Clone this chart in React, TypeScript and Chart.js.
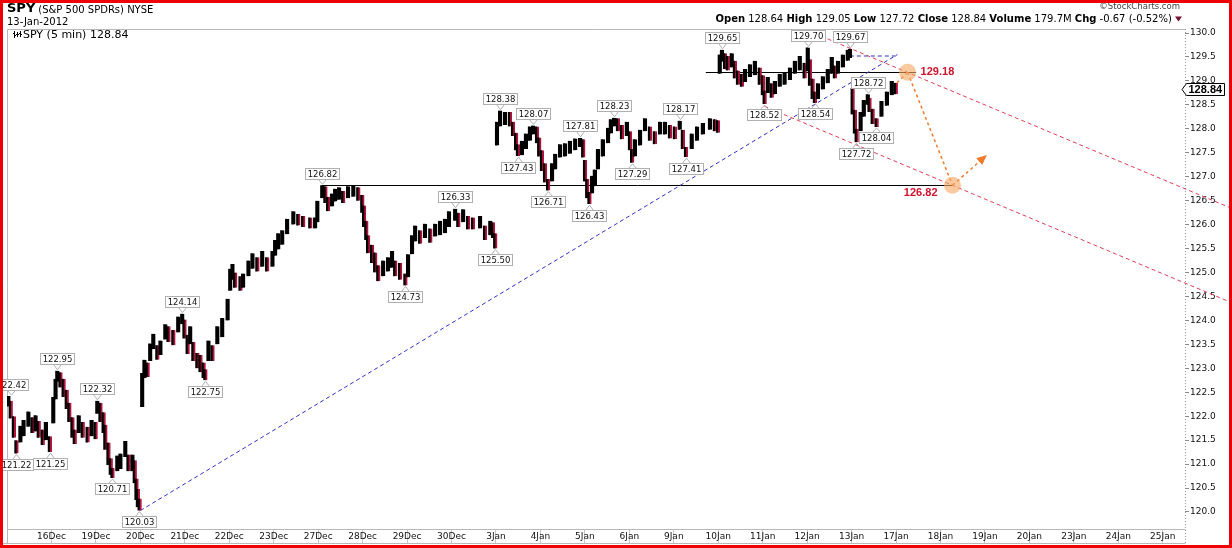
import React, { useEffect, useRef } from 'react';
import { Chart, registerables } from 'chart.js';

Chart.register(...registerables);

// ---------- data ----------
const DAY_LABELS = ['16Dec', '19Dec', '20Dec', '21Dec', '22Dec', '23Dec', '27Dec', '28Dec', '29Dec', '30Dec', '3Jan', '4Jan', '5Jan', '6Jan', '9Jan', '10Jan', '11Jan', '12Jan', '13Jan', '17Jan', '18Jan', '19Jan', '20Jan', '23Jan', '24Jan', '25Jan'];

const PRICE_TICKS = [120.0, 120.5, 121.0, 121.5, 122.0, 122.5, 123.0, 123.5, 124.0, 124.5, 125.0, 125.5, 126.0, 126.5, 127.0, 127.5, 128.0, 128.5, 129.0, 129.5, 130.0];

// bar time in trading-day units (0 = start of 16 Dec)
const BAR_DAYS = [
  -0.97, -0.92, -0.85, -0.79, -0.70, -0.63, -0.52, -0.43, -0.36, -0.29, -0.20, -0.13, -0.04,
  0.04, 0.09, 0.13, 0.20, 0.27, 0.34, 0.40, 0.47, 0.52, 0.61, 0.70, 0.81, 0.90, 0.99,
  1.03, 1.10, 1.17, 1.21, 1.28, 1.33, 1.37, 1.48, 1.55, 1.66, 1.73, 1.82, 1.87, 1.91, 1.94, 1.98,
  2.04, 2.09, 2.16, 2.22, 2.29, 2.38, 2.45, 2.56, 2.63, 2.74, 2.85, 2.94, 2.99,
  3.06, 3.12, 3.19, 3.28, 3.35, 3.42, 3.46, 3.53, 3.62, 3.73, 3.84, 3.96,
  4.02, 4.07, 4.13, 4.25, 4.31, 4.43, 4.52, 4.63, 4.74, 4.85, 4.97,
  5.03, 5.10, 5.19, 5.30, 5.44, 5.55, 5.66, 5.82, 5.93, 5.98,
  6.09, 6.16, 6.22, 6.31, 6.38, 6.47, 6.56, 6.67, 6.79, 6.90, 6.99,
  7.03, 7.08, 7.12, 7.21, 7.28, 7.35, 7.46, 7.57, 7.66, 7.73, 7.84, 7.96,
  8.02, 8.11, 8.18, 8.29, 8.40, 8.52, 8.63, 8.74, 8.85, 8.94,
  9.08, 9.15, 9.26, 9.37, 9.48, 9.64, 9.75, 9.87, 9.93, 9.98,
  10.02, 10.09, 10.20, 10.31, 10.38, 10.45, 10.49, 10.58, 10.67, 10.76, 10.83, 10.92, 10.97,
  11.03, 11.10, 11.17, 11.26, 11.33, 11.44, 11.55, 11.66, 11.78, 11.89, 11.96,
  12.00, 12.05, 12.10, 12.16, 12.22, 12.29, 12.40, 12.52, 12.58, 12.65, 12.74, 12.83, 12.94,
  13.01, 13.06, 13.12, 13.24, 13.35, 13.46, 13.57, 13.69, 13.80, 13.91,
  14.02, 14.13, 14.20, 14.27, 14.40, 14.52, 14.65, 14.81, 14.92, 14.99,
  15.03, 15.08, 15.15, 15.21, 15.30, 15.37, 15.44, 15.53, 15.60, 15.71, 15.82, 15.93,
  16.00, 16.04, 16.11, 16.20, 16.27, 16.38, 16.49, 16.61, 16.72, 16.83, 16.94,
  17.01, 17.06, 17.12, 17.17, 17.24, 17.35, 17.46, 17.55, 17.62, 17.69, 17.80, 17.91, 17.96,
  18.02, 18.07, 18.11, 18.20, 18.27, 18.36, 18.40, 18.47, 18.56, 18.67, 18.79, 18.90, 18.99,
];

const BAR_LOWS = [
  122.20, 121.95, 121.55, 121.22, 121.45, 121.58, 121.78, 121.65, 121.68, 121.55, 121.40, 121.50, 121.25,
  121.85, 122.35, 122.72, 122.60, 122.40, 122.15, 121.88, 121.55, 121.42, 121.65, 121.55, 121.45, 121.58, 121.52,
  122.05, 121.88, 121.65, 121.30, 120.98, 120.78, 120.71, 120.85, 120.90, 121.15, 120.85, 120.85, 120.60, 120.25, 120.10, 120.03,
  122.19, 122.80, 122.82, 123.15, 123.40, 123.18, 123.28, 123.60, 123.55, 123.48, 123.75, 123.92, 123.62,
  123.30, 123.50, 123.15, 123.00, 122.92, 122.80, 122.75, 123.15, 123.15, 123.50, 123.65, 124.00,
  124.62, 124.85, 124.68, 124.62, 124.68, 124.92, 125.08, 125.02, 125.12, 125.02, 125.12,
  125.35, 125.48, 125.58, 125.80, 126.00, 125.98, 125.95, 125.92, 125.92, 126.05,
  126.55, 126.45, 126.28, 126.38, 126.48, 126.52, 126.45, 126.55, 126.58, 126.50, 126.25,
  125.95, 125.68, 125.40, 125.20, 125.00, 124.82, 124.92, 125.02, 125.10, 124.92, 124.85, 124.73,
  124.90, 125.38, 125.65, 125.60, 125.72, 125.62, 125.75, 125.78, 125.82, 125.95,
  126.08, 125.95, 126.05, 125.90, 125.90, 125.92, 125.68, 125.78, 125.72, 125.50,
  127.65, 128.05, 128.08, 128.05, 127.85, 127.55, 127.43, 127.45, 127.58, 127.75, 127.88, 127.70, 127.42,
  127.12, 126.88, 126.71, 126.90, 127.15, 127.40, 127.42, 127.48, 127.55, 127.62, 127.40,
  126.90, 126.55, 126.43, 126.65, 126.80, 127.15, 127.42, 127.70, 127.90, 128.05, 127.95, 127.78, 127.85,
  127.55, 127.29, 127.42, 127.65, 127.95, 127.75, 127.68, 127.88, 127.88, 127.80,
  127.78, 127.98, 127.58, 127.41, 127.58, 127.75, 127.88, 127.98, 127.95, 127.92,
  129.15, 129.40, 129.25, 129.22, 129.28, 129.05, 128.92, 128.88, 128.98, 129.08, 129.12, 128.92,
  128.70, 128.52, 128.75, 128.65, 128.72, 128.88, 128.92, 129.02, 129.15, 129.22, 129.05,
  129.20, 128.90, 128.62, 128.54, 128.62, 128.82, 128.95, 129.15, 129.05, 129.15, 129.28, 129.42, 129.48,
  128.30, 127.90, 127.72, 127.95, 128.25, 128.50, 128.35, 128.10, 128.04, 128.25, 128.48, 128.70, 128.72,
];

const BAR_HIGHS = [
  122.42, 122.32, 122.00, 121.50, 121.80, 121.92, 122.10, 121.98, 122.02, 121.90, 121.72, 121.88, 121.58,
  122.40, 122.78, 122.95, 122.92, 122.78, 122.55, 122.28, 121.98, 121.72, 122.02, 121.88, 121.78, 121.92, 121.88,
  122.32, 122.28, 122.08, 121.82, 121.45, 121.12, 120.92, 121.18, 121.22, 121.48, 121.20, 121.20, 121.08, 120.70, 120.48, 120.28,
  122.90, 123.18, 123.12, 123.52, 123.72, 123.48, 123.58, 123.92, 123.88, 123.80, 124.08, 124.14, 124.02,
  123.70, 123.88, 123.55, 123.32, 123.28, 123.12, 122.98, 123.58, 123.48, 123.88, 124.05, 124.45,
  125.08, 125.18, 125.00, 124.92, 124.98, 125.25, 125.40, 125.32, 125.45, 125.32, 125.45,
  125.68, 125.82, 125.88, 126.12, 126.28, 126.22, 126.18, 126.15, 126.15, 126.50,
  126.82, 126.80, 126.58, 126.65, 126.75, 126.78, 126.70, 126.80, 126.82, 126.78, 126.62,
  126.40, 126.08, 125.78, 125.58, 125.42, 125.15, 125.25, 125.32, 125.45, 125.25, 125.20, 124.98,
  125.38, 125.78, 125.98, 125.88, 126.02, 125.92, 126.02, 126.08, 126.12, 126.28,
  126.33, 126.25, 126.32, 126.18, 126.15, 126.18, 125.98, 126.08, 126.05, 125.82,
  128.15, 128.38, 128.35, 128.35, 128.15, 127.92, 127.68, 127.75, 127.90, 128.05, 128.07, 128.05, 127.82,
  127.55, 127.28, 126.95, 127.28, 127.48, 127.68, 127.70, 127.75, 127.80, 127.81, 127.78,
  127.35, 126.95, 126.68, 127.02, 127.15, 127.58, 127.78, 128.02, 128.20, 128.23, 128.22, 128.08, 128.15,
  127.95, 127.58, 127.78, 127.98, 128.22, 128.05, 127.95, 128.15, 128.15, 128.08,
  128.05, 128.17, 127.98, 127.62, 127.90, 128.05, 128.12, 128.22, 128.20, 128.18,
  129.55, 129.65, 129.58, 129.52, 129.58, 129.42, 129.22, 129.15, 129.25, 129.35, 129.42, 129.28,
  129.12, 128.80, 129.08, 128.95, 129.00, 129.15, 129.18, 129.28, 129.42, 129.52, 129.38,
  129.70, 129.45, 129.05, 128.78, 128.95, 129.10, 129.25, 129.50, 129.32, 129.42, 129.55, 129.65, 129.67,
  128.85, 128.40, 128.00, 128.35, 128.60, 128.72, 128.65, 128.42, 128.22, 128.58, 128.78, 129.00, 128.96,
];

// swing high / low call-outs
const LABEL_DAYS = [-0.92, -0.79, 0.13, -0.04, 1.03, 1.37, 1.98, 2.94, 3.46, 6.09, 7.96, 9.08, 9.98, 10.09, 10.49, 10.83, 11.17, 11.89, 12.10, 12.65, 13.06, 14.13, 14.27, 15.08, 16.04, 17.01, 17.17, 17.96, 18.11, 18.36, 18.56];
const LABEL_VALUES = [122.42, 121.22, 122.95, 121.25, 122.32, 120.71, 120.03, 124.14, 122.75, 126.82, 124.73, 126.33, 125.50, 128.38, 127.43, 128.07, 126.71, 127.81, 126.43, 128.23, 127.29, 128.17, 127.41, 129.65, 128.52, 129.70, 128.54, 129.67, 127.72, 128.72, 128.04];
const LABEL_KINDS = ['H', 'L', 'H', 'L', 'H', 'L', 'L', 'H', 'L', 'H', 'L', 'H', 'L', 'H', 'L', 'H', 'L', 'H', 'L', 'H', 'L', 'H', 'L', 'H', 'L', 'H', 'L', 'H', 'L', 'H', 'L'];

// annotation lines [day, price]
const SUPPORT_LINE = [[6.09, 126.82], [20.27, 126.82]];
const RESIST_LINE = [[14.72, 129.18], [19.45, 129.18]];
const BLUE_TREND = [[2.0, 120.03], [19.03, 129.55]];
const BLUE_FLAT = [[17.96, 129.52], [19.01, 129.52]];
const UPPER_CHANNEL = [[17.17, 129.99], [26.6, 126.32]];
const LOWER_CHANNEL = [[16.04, 128.47], [26.6, 124.35]];
const ORANGE_LEGS = [
  [[19.02, 128.96], [19.26, 129.18]],
  [[19.26, 129.18], [20.27, 126.82]],
];
const ORANGE_ARROW = [[20.27, 126.82], [20.99, 127.41]];
const TARGET_DAYS = [19.26, 20.27];
const TARGET_VALUES = [129.18, 126.82];

const LAST_PRICE = 128.84;
const HEADER_FIELDS = ['Open', 'High', 'Low', 'Close', 'Volume', 'Chg'];
const HEADER_VALUES = ['128.64', '129.05', '127.72', '128.84', '179.7M', '-0.67 (-0.52%)'];

const FONT = '"DejaVu Sans"';

const overlayPlugin = {
  id: 'spyOverlay',
  beforeDatasetsDraw(chart: any) {
    const { ctx, chartArea: a, scales } = chart;
    const X = (d: number) => scales.x.getPixelForValue(d);
    const Y = (v: number) => scales.y.getPixelForValue(v);
    ctx.save();
    // frame
    ctx.strokeStyle = '#b8b8b8';
    ctx.lineWidth = 1;
    ctx.setLineDash([]);
    ctx.beginPath();
    ctx.moveTo(a.left + 0.5, a.top + 0.5);
    ctx.lineTo(a.right + 0.5, a.top + 0.5);
    ctx.moveTo(a.left + 0.5, a.top + 0.5);
    ctx.lineTo(a.left + 0.5, 543.5);
    ctx.moveTo(a.left + 0.5, a.bottom + 0.5);
    ctx.lineTo(a.right + 0.5, a.bottom + 0.5);
    ctx.moveTo(3, 543.5);
    ctx.lineTo(a.right + 0.5, 543.5);
    ctx.stroke();
    ctx.setLineDash([1, 2]);
    ctx.strokeStyle = '#999';
    ctx.beginPath();
    ctx.moveTo(a.right + 0.5, a.top);
    ctx.lineTo(a.right + 0.5, 543.5);
    ctx.stroke();

    const seg = (p: number[][], color: string, dash: number[], w: number) => {
      ctx.beginPath();
      ctx.setLineDash(dash);
      ctx.strokeStyle = color;
      ctx.lineWidth = w;
      const solid = dash.length === 0;
      ctx.moveTo(X(p[0][0]), solid ? Math.round(Y(p[0][1])) + 0.5 : Y(p[0][1]));
      ctx.lineTo(X(p[1][0]), solid ? Math.round(Y(p[1][1])) + 0.5 : Y(p[1][1]));
      ctx.stroke();
    };
    seg(SUPPORT_LINE, '#000', [], 1);
    seg(RESIST_LINE, '#000', [], 1);
    seg(BLUE_TREND, '#2f2fc8', [4, 3], 1);
    seg(BLUE_FLAT, '#2f2fc8', [4, 3], 1);
    seg(UPPER_CHANNEL, '#e03c55', [4, 3], 1);
    seg(LOWER_CHANNEL, '#e03c55', [4, 3], 1);
    ctx.restore();
  },
  afterDatasetsDraw(chart: any) {
    const { ctx, scales } = chart;
    const X = (d: number) => scales.x.getPixelForValue(d);
    const Y = (v: number) => scales.y.getPixelForValue(v);
    ctx.save();
    // swing labels
    ctx.font = `8.5px ${FONT}`;
    ctx.textAlign = 'center';
    ctx.textBaseline = 'middle';
    LABEL_DAYS.forEach((d, i) => {
      const text = LABEL_VALUES[i].toFixed(2);
      const above = LABEL_KINDS[i] === 'H';
      const cx = Math.round(X(d)) + 0.5;
      const tip = above ? Y(LABEL_VALUES[i]) - 1 : Y(LABEL_VALUES[i]) + 1;
      const w = Math.round(ctx.measureText(text).width + 4);
      const h = 11;
      const top = Math.round(above ? tip - 5.5 - h : tip + 4.5) + 0.5;
      const base = above ? top + h : top;
      ctx.setLineDash([]);
      ctx.lineWidth = 1;
      ctx.strokeStyle = '#b0b0b0';
      ctx.beginPath();
      ctx.moveTo(cx - 4, base);
      ctx.lineTo(cx, tip);
      ctx.lineTo(cx + 4, base);
      ctx.stroke();
      ctx.fillStyle = '#fff';
      ctx.fillRect(cx - w / 2, top, w, h);
      ctx.strokeRect(cx - w / 2, top, w, h);
      ctx.fillStyle = '#111';
      ctx.fillText(text, cx, top + h / 2 + 0.5);
    });

    // orange projection
    ctx.strokeStyle = '#f07a2a';
    ctx.fillStyle = '#f07a2a';
    ctx.lineWidth = 1.5;
    ctx.setLineDash([3, 3]);
    [...ORANGE_LEGS, ORANGE_ARROW].forEach((p) => {
      ctx.beginPath();
      ctx.moveTo(X(p[0][0]), Y(p[0][1]));
      ctx.lineTo(X(p[1][0]), Y(p[1][1]));
      ctx.stroke();
    });
    {
      const x0 = X(ORANGE_ARROW[0][0]);
      const y0 = Y(ORANGE_ARROW[0][1]);
      const x1 = X(ORANGE_ARROW[1][0]);
      const y1 = Y(ORANGE_ARROW[1][1]);
      const ang = Math.atan2(y1 - y0, x1 - x0);
      const c = Math.cos(ang);
      const s = Math.sin(ang);
      ctx.setLineDash([]);
      ctx.beginPath();
      ctx.moveTo(x1 + c * 3, y1 + s * 3);
      ctx.lineTo(x1 - c * 7 - s * 4.5, y1 - s * 7 + c * 4.5);
      ctx.lineTo(x1 - c * 7 + s * 4.5, y1 - s * 7 - c * 4.5);
      ctx.closePath();
      ctx.fill();
    }
    TARGET_DAYS.forEach((d, i) => {
      ctx.beginPath();
      ctx.fillStyle = 'rgba(246,170,100,0.62)';
      ctx.arc(X(d), Y(TARGET_VALUES[i]), 8.5, 0, Math.PI * 2);
      ctx.fill();
    });
    ctx.fillStyle = '#d0142c';
    ctx.font = `bold 11px "Liberation Sans"`;
    ctx.textBaseline = 'middle';
    ctx.textAlign = 'left';
    ctx.fillText(TARGET_VALUES[0].toFixed(2), X(TARGET_DAYS[0]) + 13, Y(TARGET_VALUES[0]) + 0);
    ctx.textAlign = 'right';
    ctx.fillText(TARGET_VALUES[1].toFixed(2), X(TARGET_DAYS[1]) - 15, Y(TARGET_VALUES[1]) + 8);
    ctx.restore();
  },
  afterDraw(chart: any) {
    const { ctx, chartArea: a, scales } = chart;
    const Y = (v: number) => scales.y.getPixelForValue(v);
    ctx.save();
    ctx.setLineDash([]);
    ctx.textBaseline = 'middle';
    // title block
    ctx.fillStyle = '#000';
    ctx.textAlign = 'left';
    ctx.font = `bold 13px ${FONT}`;
    ctx.fillText('SPY', 7, 9);
    const spyW = ctx.measureText('SPY').width;
    ctx.font = `10px ${FONT}`;
    ctx.fillText('(S&P 500 SPDRs) NYSE', 7 + spyW + 3, 10);
    ctx.fillText('13-Jan-2012', 7, 22);

    // legend icon (tiny OHLC bars)
    ctx.strokeStyle = '#000';
    ctx.lineWidth = 1;
    [[14.5, 31, 38], [17.5, 32, 37], [20.5, 31, 37]].forEach(([xx, y0, y1]) => {
      ctx.beginPath();
      ctx.moveTo(xx, y0);
      ctx.lineTo(xx, y1);
      ctx.moveTo(xx - 1.5, y0 + 2.5);
      ctx.lineTo(xx, y0 + 2.5);
      ctx.moveTo(xx, y1 - 2.5);
      ctx.lineTo(xx + 1.5, y1 - 2.5);
      ctx.stroke();
    });
    ctx.fillStyle = '#000';
    ctx.font = `11px ${FONT}`;
    ctx.fillText(`SPY (5 min) ${LAST_PRICE.toFixed(2)}`, 23, 35);

    // right header
    ctx.textAlign = 'right';
    ctx.fillStyle = '#444';
    ctx.font = `8.5px ${FONT}`;
    ctx.fillText('\u00A9StockCharts.com', 1180, 7);

    const segs: { t: string; b: boolean }[] = [];
    HEADER_FIELDS.forEach((f, i) => {
      segs.push({ t: f, b: true });
      segs.push({ t: ' ' + HEADER_VALUES[i] + ' ', b: false });
    });
    let total = 0;
    segs.forEach((s) => {
      ctx.font = s.b ? `bold 10px ${FONT}` : `10px ${FONT}`;
      total += ctx.measureText(s.t).width;
    });
    const triW = 7;
    let cx = 1182 - triW - total;
    ctx.textAlign = 'left';
    ctx.fillStyle = '#000';
    segs.forEach((s) => {
      ctx.font = s.b ? `bold 10px ${FONT}` : `10px ${FONT}`;
      ctx.fillText(s.t, cx, 19);
      cx += ctx.measureText(s.t).width;
    });
    ctx.fillStyle = '#7a1030';
    ctx.beginPath();
    ctx.moveTo(cx, 16.5);
    ctx.lineTo(cx + triW, 16.5);
    ctx.lineTo(cx + triW / 2, 21.5);
    ctx.closePath();
    ctx.fill();

    // last price tag
    const yy = Math.round(Y(LAST_PRICE)) + 0.5;
    ctx.font = 'bold 11px "Liberation Sans"';
    const tag = LAST_PRICE.toFixed(2);
    const tw = ctx.measureText(tag).width;
    const bx = a.right + 1.5;
    const bw = Math.round(tw + 4);
    ctx.beginPath();
    ctx.moveTo(a.right - 3, yy);
    ctx.lineTo(bx, yy - 6);
    ctx.lineTo(bx + bw, yy - 6);
    ctx.lineTo(bx + bw, yy + 6);
    ctx.lineTo(bx, yy + 6);
    ctx.closePath();
    ctx.fillStyle = '#fff';
    ctx.fill();
    ctx.strokeStyle = '#000';
    ctx.lineWidth = 1;
    ctx.stroke();
    ctx.fillStyle = '#000';
    ctx.textAlign = 'left';
    ctx.fillText(tag, bx + 2, yy + 0.5);

    // red outer frame
    ctx.fillStyle = '#ee0000';
    ctx.fillRect(0, 0, 1232, 3);
    ctx.fillRect(0, 545, 1232, 3);
    ctx.fillRect(0, 0, 3, 548);
    ctx.fillRect(1229, 0, 3, 548);
    ctx.restore();
  },
};

export default function App() {
  const ref = useRef<HTMLCanvasElement | null>(null);
  useEffect(() => {
    if (!ref.current) return;
    const down = BAR_DAYS.map((_, i) => {
      if (i === 0) return false;
      const mid = (BAR_LOWS[i] + BAR_HIGHS[i]) / 2;
      const prev = (BAR_LOWS[i - 1] + BAR_HIGHS[i - 1]) / 2;
      return mid < prev;
    });
    const chart = new Chart(ref.current, {
      type: 'bar',
      data: {
        datasets: [
          {
            label: 'SPY',
            data: BAR_DAYS.map((d, i) => ({ x: d, y: [BAR_LOWS[i], BAR_HIGHS[i]] })) as any,
            backgroundColor: '#000',
            borderColor: down.map((dn) => (dn ? '#b0143f' : '#000')),
            borderWidth: { left: 0, right: 2, top: 0, bottom: 0 },
            borderSkipped: false,
            barThickness: 4,
            grouped: false,
          } as any,
        ],
      },
      options: {
        responsive: false,
        devicePixelRatio: 1,
        animation: false,
        events: [],
        layout: { padding: { left: 7, top: 29, right: 0, bottom: 0 } },
        plugins: { legend: { display: false }, tooltip: { enabled: false } },
        scales: {
          x: {
            type: 'linear',
            min: -1,
            max: 25.5,
            offset: false,
            grid: { display: true, drawOnChartArea: false, drawTicks: true, tickLength: 14, color: '#c8c8c8', offset: false },
            border: { display: false },
            ticks: {
              autoSkip: false,
              maxRotation: 0,
              minRotation: 0,
              padding: -12,
              color: '#111',
              font: { family: 'DejaVu Sans', size: 9 },
              callback: (v: any) => DAY_LABELS[Number(v)] ?? '',
            },
            afterBuildTicks: (s: any) => {
              s.ticks = DAY_LABELS.map((_, i) => ({ value: i }));
            },
            afterFit: (s: any) => {
              s.height = 19;
            },
          },
          y: {
            type: 'linear',
            position: 'right',
            min: 119.645,
            max: 130.084,
            grid: { display: true, drawOnChartArea: false, drawTicks: true, tickLength: 4, color: '#888' },
            border: { display: false },
            ticks: {
              padding: 1,
              color: '#111',
              font: { family: 'DejaVu Sans', size: 9 },
              callback: (v: any) => Number(v).toFixed(1),
            },
            afterBuildTicks: (s: any) => {
              s.ticks = PRICE_TICKS.map((v) => ({ value: v }));
            },
            afterFit: (s: any) => {
              s.width = 47;
            },
          },
        },
      } as any,
      plugins: [overlayPlugin],
    });
    return () => chart.destroy();
  }, []);
  return (
    <div style={{ position: 'absolute', left: 0, top: 0, width: 1232, height: 548, background: '#fff' }}>
      <canvas ref={ref} width={1232} height={548} style={{ display: 'block' }} />
    </div>
  );
}
